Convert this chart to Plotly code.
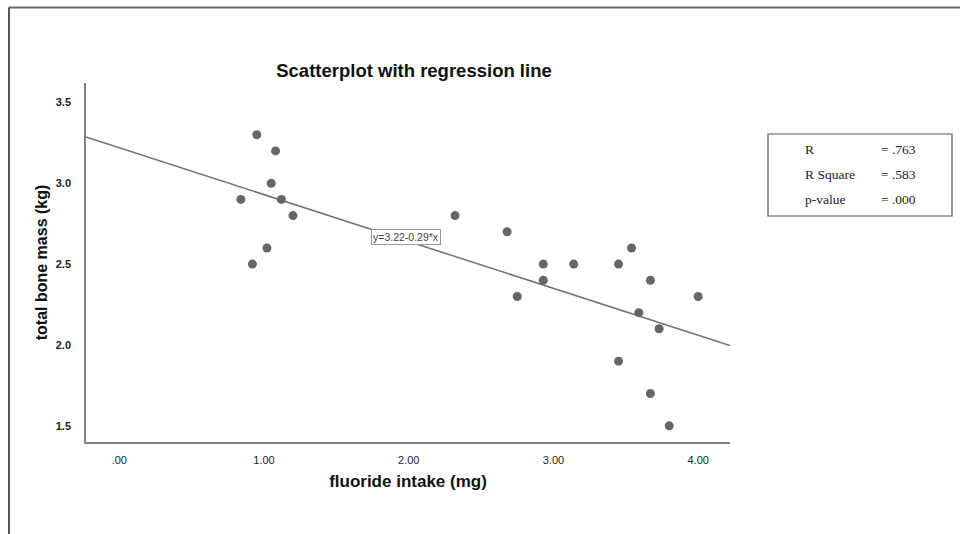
import plotly.graph_objects as go

# ---- data ----
fluoride_mg = [0.84, 0.95, 1.08, 1.05, 1.12, 1.20, 1.02, 0.92,
               2.32, 2.68, 3.54, 2.93, 3.14, 3.45, 2.93, 3.67,
               2.75, 4.00, 3.59, 3.73, 3.45, 3.67, 3.80]
bone_mass_kg = [2.9, 3.3, 3.2, 3.0, 2.9, 2.8, 2.6, 2.5,
                2.8, 2.7, 2.6, 2.5, 2.5, 2.5, 2.4, 2.4,
                2.3, 2.3, 2.2, 2.1, 1.9, 1.7, 1.5]

intercept = 3.22
slope = -0.29

x_tick_vals = [0, 1, 2, 3, 4]
x_tick_text = [".00", "1.00", "2.00", "3.00", "4.00"]
y_tick_vals = [1.5, 2.0, 2.5, 3.0, 3.5]
y_tick_text = ["1.5", "2.0", "2.5", "3.0", "3.5"]

stat_labels = ["R", "R Square", "p-value"]
stat_values = ["= .763", "= .583", "= .000"]

x_range = [-0.23, 4.22]
y_range = [1.40, 3.62]

line_x = x_range
line_y = [intercept + slope * v for v in line_x]

fig = go.Figure()
fig.add_trace(go.Scatter(
    x=line_x, y=line_y, mode="lines",
    line=dict(color="#707070", width=1.5), hoverinfo="skip", showlegend=False))
fig.add_trace(go.Scatter(
    x=fluoride_mg, y=bone_mass_kg, mode="markers",
    marker=dict(color="#666666", size=9), showlegend=False))

W, H = 960, 534
L, R, T, B = 86, 230, 83, 92
pw, ph = W - L - R, H - T - B

def px(xp):
    return (xp - L) / pw

def py(yp):
    return (H - B - yp) / ph

tick_font = "Liberation Sans Narrow, Arial Narrow, Liberation Sans, sans-serif"

fig.update_layout(
    width=W, height=H,
    margin=dict(l=L, r=R, t=T, b=B),
    paper_bgcolor="white", plot_bgcolor="white",
    font=dict(family="Liberation Sans, Arial, sans-serif", color="#222"),
    title=dict(text="<b>Scatterplot with regression line</b>",
               x=414 / W, xanchor="center", y=1 - 71 / H, yanchor="middle",
               font=dict(size=18.5, color="#111")),
    xaxis=dict(range=x_range, tickvals=x_tick_vals, ticktext=x_tick_text,
               showgrid=False, zeroline=False, showline=True,
               linecolor="#808080", linewidth=1.5, ticks="",
               ticklabelstandoff=7,
               tickfont=dict(family=tick_font, size=11, color="#222"),
               title=dict(text="<b>fluoride intake (mg)</b>",
                          font=dict(size=17, color="#111"), standoff=10)),
    yaxis=dict(range=y_range, tickvals=y_tick_vals, ticktext=y_tick_text,
               showgrid=False, zeroline=False, showline=True,
               linecolor="#808080", linewidth=1.5, ticks="",
               ticklabelstandoff=11,
               tickfont=dict(family=tick_font, size=11, color="#222", weight="bold"),
               title=dict(text="<b>total bone mass (kg)</b>",
                          font=dict(size=16, color="#111"), standoff=4)),
)

# equation label on the line
fig.add_annotation(x=1.98, y=2.665, xref="x", yref="y",
                   text="y=3.22-0.29*x", showarrow=False,
                   font=dict(size=10.5, color="#444"),
                   bgcolor="white", bordercolor="#999", borderwidth=1, borderpad=1)

# statistics box
fig.add_shape(type="rect", xref="paper", yref="paper",
              x0=px(768), x1=px(952), y0=py(216), y1=py(134),
              line=dict(color="#555", width=1.2), fillcolor="white")
for i, (lab, val) in enumerate(zip(stat_labels, stat_values)):
    yy = py(149 + 25 * i)
    fig.add_annotation(x=px(803), y=yy, xref="paper", yref="paper",
                       text=lab, showarrow=False, xanchor="left", yanchor="middle",
                       font=dict(family="Liberation Serif, Times New Roman, serif",
                                 size=13.5, color="#222"))
    fig.add_annotation(x=px(879), y=yy, xref="paper", yref="paper",
                       text=val, showarrow=False, xanchor="left", yanchor="middle",
                       font=dict(family="Liberation Serif, Times New Roman, serif",
                                 size=13.5, color="#222"))

# outer frame (top and left edges)
fig.add_shape(type="line", xref="paper", yref="paper",
              x0=px(9), x1=px(960), y0=py(7.5), y1=py(7.5),
              line=dict(color="#666", width=2))
fig.add_shape(type="line", xref="paper", yref="paper",
              x0=px(9), x1=px(9), y0=py(7.5), y1=py(534),
              line=dict(color="#555", width=2))

fig.write_html("out.html",
               config={"displayModeBar": False},
               post_script="document.body.style.margin='0';document.body.style.overflow='hidden';")
